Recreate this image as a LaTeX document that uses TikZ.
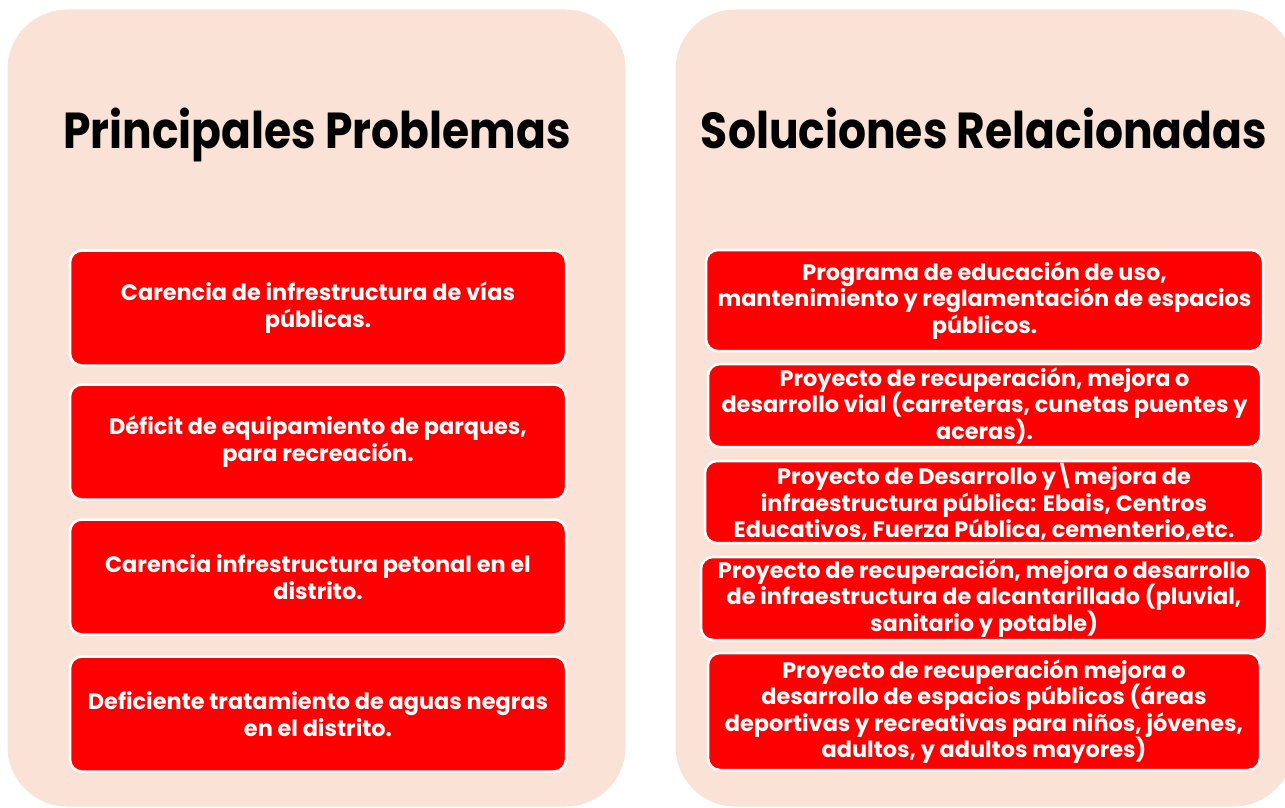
\documentclass[tikz,border=0pt]{standalone}
\usepackage{fontspec}
\setmainfont{Poppins}
\usetikzlibrary{positioning}
\def\panelcol{peach}
\def\boxcol{red}
\definecolor{peach}{RGB}{250,227,214}
\tikzset{
	panel/.style={fill=\panelcol,draw=white,line width=1pt,rounded corners=60pt},
	title/.style={anchor=base,yscale=1.15,font=\fontsize{44}{50}\selectfont\bfseries,text=black},
	probbox/.style={fill=\boxcol,draw=white,line width=2.5pt,rounded corners=12pt,
		inner sep=0pt,align=center,text=white,
		font=\fontsize{22.4}{27}\selectfont\bfseries},
	solbox/.style={probbox,font=\fontsize{22.4}{26.5}\selectfont\bfseries},
}
\begin{document}
\begin{tikzpicture}[x=1pt,y=-1pt]
\useasboundingbox (0,0) rectangle (1285,808);
\clip (0,0) rectangle (1285,808);
% panels
\draw[panel] (7,9) rectangle (626,807);
\draw[panel] (675,9) rectangle (1294,807);
\node[title] (tprob) at (317,148) {Principales Problemas};
\node[title] (tsol) at (984,148) {Soluciones Relacionadas};
% problems
\foreach \n/\y/\txt in {1/308/{Carencia de infrestructura de vías\\públicas.},
		2/442/{Déficit de equipamiento de parques,\\para recreación.},
		3/577/{Carencia infrestructura petonal en el\\distrito.},
		4/714/{Deficiente tratamiento de aguas negras\\en el distrito.}}
	\node[probbox,minimum width=496pt,minimum height=115pt] (p\n) at (318,\y) {\txt};
% solutions
\node[solbox,minimum width=557pt,minimum height=101pt] (s1) at (984.5,300.5)
	{Programa de educación de uso,\\mantenimiento y reglamentación de espacios\\públicos.};
\node[solbox,minimum width=553pt,minimum height=83pt] (s2) at (984.5,405.5)
	{Proyecto de recuperación, mejora o\\desarrollo vial (carreteras, cunetas puentes y\\aceras).};
\node[solbox,minimum width=558pt,minimum height=82pt] (s3) at (984,502)
	{Proyecto de Desarrollo y\textbackslash mejora de\\infraestructura pública: Ebais, Centros\\Educativos, Fuerza Pública, cementerio,etc.};
\node[solbox,minimum width=566pt,minimum height=83pt] (s4) at (984,598.5)
	{Proyecto de recuperación, mejora o desarrollo\\de infraestructura de alcantarillado (pluvial,\\sanitario y potable)};
\node[solbox,minimum width=552pt,minimum height=117pt] (s5) at (984,711.5)
	{Proyecto de recuperación mejora o\\desarrollo de espacios públicos (áreas\\deportivas y recreativas para niños, jóvenes,\\adultos, y adultos mayores)};
\end{tikzpicture}
\end{document}
